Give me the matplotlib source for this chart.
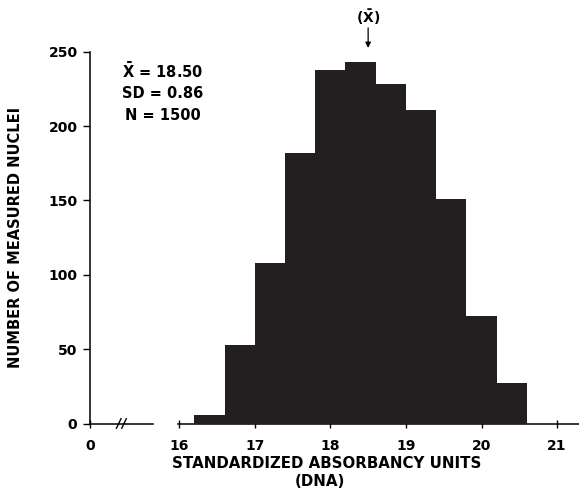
import matplotlib
matplotlib.use("Agg")
import matplotlib.pyplot as plt

plt.rcParams["mathtext.fontset"] = "dejavusans"

# ---- data ----
bin_left_edges = [16.2, 16.6, 17.0, 17.4, 17.8, 18.2, 18.6, 19.0, 19.4, 19.8, 20.2]
bin_width = 0.4
counts = [6, 53, 108, 182, 238, 243, 228, 211, 151, 72, 27]
x_tick_values = [16, 17, 18, 19, 20, 21]
x_tick_labels = ["16", "17", "18", "19", "20", "21"]
y_tick_values = [0, 50, 100, 150, 200, 250]
mean_value = 18.50
stats_lines = [r"$\mathbf{\bar{X}}$ = 18.50", "SD = 0.86", "N = 1500"]

# ---- layout constants ----
x_origin = 14.82   # where the broken axis shows "0"
x_right = 21.29
bar_color = "#231f20"
font = dict(family="DejaVu Sans", fontweight="bold")

fig = plt.figure(figsize=(5.79, 5.0), dpi=100)
ax = fig.add_axes([90 / 579, 76.5 / 500, 489 / 579, 371.8 / 500])

ax.bar(bin_left_edges, counts, width=bin_width, align="edge",
       color=bar_color, linewidth=0, zorder=3)

ax.set_xlim(x_origin, x_right)
ax.set_ylim(0, 250)

for s in ["top", "right", "bottom"]:
    ax.spines[s].set_visible(False)
ax.spines["left"].set_linewidth(1.1)

# broken x axis line
ax.plot([x_origin, 15.65], [0, 0], color="black", lw=1.1, clip_on=False, zorder=4)
ax.plot([15.98, x_right], [0, 0], color="black", lw=1.1, clip_on=False, zorder=2)
# break marks
for bx in [15.20, 15.27]:
    ax.plot([bx - 0.03, bx + 0.03], [-3.2, 3.2], color="black", lw=1.0,
            clip_on=False, zorder=4)

ax.set_xticks([x_origin] + x_tick_values)
ax.set_xticklabels(["0"] + x_tick_labels)
ax.set_yticks(y_tick_values)
ax.set_yticklabels([str(v) for v in y_tick_values])

ax.tick_params(axis="x", direction="inout", length=6, width=1.0, pad=8)
ax.tick_params(axis="y", direction="out", length=5, width=1.0, pad=4)
for lab in ax.get_xticklabels() + ax.get_yticklabels():
    lab.set_fontsize(10)
    lab.set_fontweight("bold")
    lab.set_family("DejaVu Sans")

# axis labels
fig.text(16 / 579, 1 - 237.6 / 500, "NUMBER OF MEASURED NUCLEI", rotation=90,
         ha="center", va="center", fontsize=10.5, **font)
fig.text(327 / 579, 1 - 463 / 500, "STANDARDIZED ABSORBANCY UNITS",
         ha="center", va="center", fontsize=10.8, **font)
fig.text(320 / 579, 1 - 481 / 500, "(DNA)",
         ha="center", va="center", fontsize=10.8, **font)

# stats text
for i, line in enumerate(stats_lines):
    ax.text(15.78, 237 - 15 * i, line, ha="center", va="center",
            fontsize=10.5, **font)

# mean annotation
ax.annotate("", xy=(mean_value, 252.5), xytext=(mean_value, 266),
            arrowprops=dict(arrowstyle="-|>", lw=0.9, color="black",
                            mutation_scale=8, shrinkA=0, shrinkB=0),
            annotation_clip=False)
ax.text(mean_value, 273, r"($\mathbf{\bar{X}}$)", ha="center", va="center",
        fontsize=10, clip_on=False, **font)

fig.savefig("out.png", dpi=100)
